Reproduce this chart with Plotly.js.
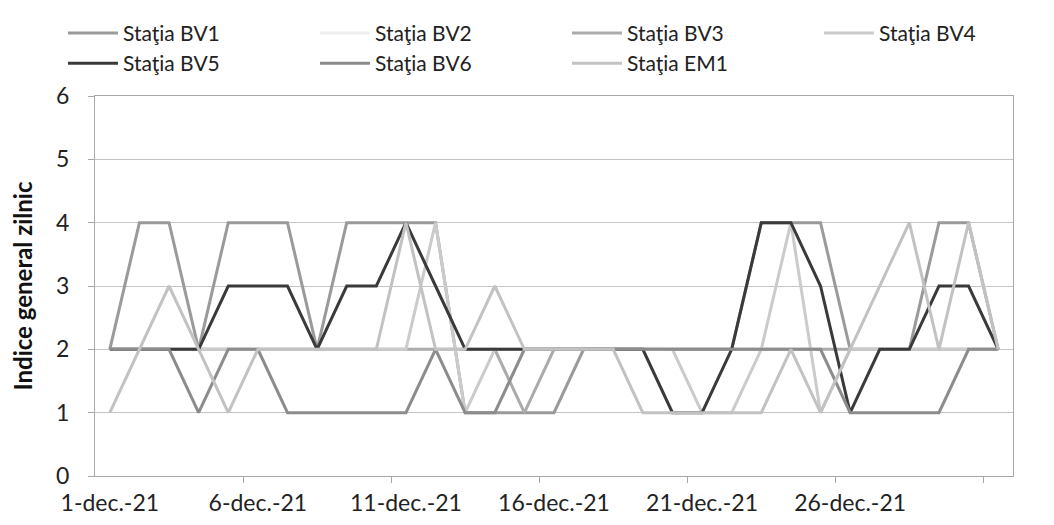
<!DOCTYPE html>
<html>
<head>
<meta charset="utf-8">
<script src="https://cdn.plot.ly/plotly-3.0.1.min.js"></script>
<style>html,body{margin:0;padding:0;background:#fff;}#chart{width:1054px;height:525px;}</style>
</head>
<body>
<div id="chart"></div>
<script>
// Categories: days of December 2021
var days = ['2021-12-01','2021-12-02','2021-12-03','2021-12-04','2021-12-05','2021-12-06','2021-12-07','2021-12-08','2021-12-09','2021-12-10',
            '2021-12-11','2021-12-12','2021-12-13','2021-12-14','2021-12-15','2021-12-16','2021-12-17','2021-12-18','2021-12-19','2021-12-20',
            '2021-12-21','2021-12-22','2021-12-23','2021-12-24','2021-12-25','2021-12-26','2021-12-27','2021-12-28','2021-12-29','2021-12-30','2021-12-31'];

// Indice general zilnic per station
var bv1 = [2,4,4,2,4,4,4,2,4,4,4,4,1,1,1,1,2,2,2,2,2,2,4,4,4,2,2,2,4,4,2];
var bv2 = [2,2,2,2,2,2,2,2,2,2,2,2,2,2,2,2,2,2,2,2,2,2,2,2,2,2,2,2,2,2,2];
var bv3 = [2,2,2,2,2,2,2,2,2,2,2,2,2,2,1,2,2,2,2,2,2,2,2,2,2,2,2,2,2,2,2];
var bv4 = [2,2,2,2,2,2,2,2,2,2,2,4,1,2,2,2,2,2,2,2,1,1,2,4,1,2,2,2,2,2,2];
var bv5 = [2,2,2,2,3,3,3,2,3,3,4,3,2,2,2,2,2,2,2,1,1,2,4,4,3,1,2,2,3,3,2];
var bv6 = [2,2,2,1,2,2,1,1,1,1,1,2,1,1,2,2,2,2,2,2,2,2,2,2,2,1,1,1,1,2,2];
var em1 = [1,2,3,2,1,2,2,2,2,2,4,2,2,3,2,2,2,2,1,1,1,1,1,2,1,2,3,4,2,4,2];

var seriesNames = ['Staţia BV1','Staţia BV2','Staţia BV3','Staţia BV4','Staţia BV5','Staţia BV6','Staţia EM1'];
var seriesValues = [bv1, bv2, bv3, bv4, bv5, bv6, em1];
var seriesColors = ['#9a9a9a','#eeeeee','#ababab','#cbcbcb','#3a3a3a','#8c8c8c','#c2c2c2'];
// legend entry widths (last entry of each legend row is narrower)
var legendWidths = [187, 187, 187, 120, 187, 187, 120];

// Axis labels
var tickDates = ['2021-12-01','2021-12-06','2021-12-11','2021-12-16','2021-12-21','2021-12-26','2021-12-31'];
var tickLabels = ['1-dec.-21','6-dec.-21','11-dec.-21','16-dec.-21','21-dec.-21','26-dec.-21','31-dec.-21'];
var yTitle = 'Indice general zilnic';

function shiftHours(d, h) {
  var t = new Date(d + 'T00:00:00Z').getTime() + h * 3600000;
  return new Date(t).toISOString().slice(0, 19).replace('T', ' ');
}
var minorTicks = tickDates.slice(1).map(function (d) { return shiftHours(d, -12); });

var FONT = 'Lato, "Open Sans", sans-serif';

var traces = seriesNames.map(function (n, i) {
  return {
    type: 'scatter', mode: 'lines', name: n,
    x: days, y: seriesValues[i],
    line: {color: seriesColors[i], width: 3},
    legendwidth: legendWidths[i],
    hoverinfo: 'skip'
  };
});

var layout = {
  width: 1054, height: 525,
  paper_bgcolor: '#ffffff', plot_bgcolor: '#ffffff',
  margin: {l: 95, r: 41, t: 96, b: 49, pad: 0},
  font: {family: FONT, size: 23, color: '#222222'},
  showlegend: true,
  legend: {
    orientation: 'h', xref: 'paper', yref: 'paper',
    x: -0.0349, y: 1.219, xanchor: 'left', yanchor: 'top',
    itemwidth: 50,
    entrywidth: 187, entrywidthmode: 'pixels',
    font: {family: FONT, size: 21, color: '#222222'},
    bgcolor: 'rgba(0,0,0,0)', traceorder: 'normal'
  },
  xaxis: {
    type: 'date',
    range: [shiftHours(days[0], -12), shiftHours(days[days.length - 1], 12)],
    tickmode: 'array', tickvals: tickDates, ticktext: tickLabels,
    ticks: '', showgrid: false, zeroline: false,
    showline: true, linecolor: '#a8a8a8', linewidth: 1, mirror: true,
    ticklabelstandoff: 6,
    minor: {tickmode: 'array', tickvals: minorTicks, ticks: 'outside', ticklen: 6, tickcolor: '#a8a8a8', showgrid: false},
    tickfont: {family: FONT, size: 23, color: '#222222'}
  },
  yaxis: {
    range: [0, 6], dtick: 1, tick0: 0,
    showgrid: true, gridcolor: '#c4c4c4', gridwidth: 1,
    zeroline: false,
    showline: true, linecolor: '#a8a8a8', linewidth: 1, mirror: true,
    ticks: 'outside', ticklen: 6, tickcolor: '#a8a8a8',
    ticklabelstandoff: 14,
    tickfont: {family: FONT, size: 23, color: '#222222'},
    title: {text: yTitle, standoff: 16, font: {family: FONT, size: 24, color: '#111111', weight: 'bold'}}
  }
};

Plotly.newPlot('chart', traces, layout, {displayModeBar: false, staticPlot: true});
</script>
</body>
</html>
